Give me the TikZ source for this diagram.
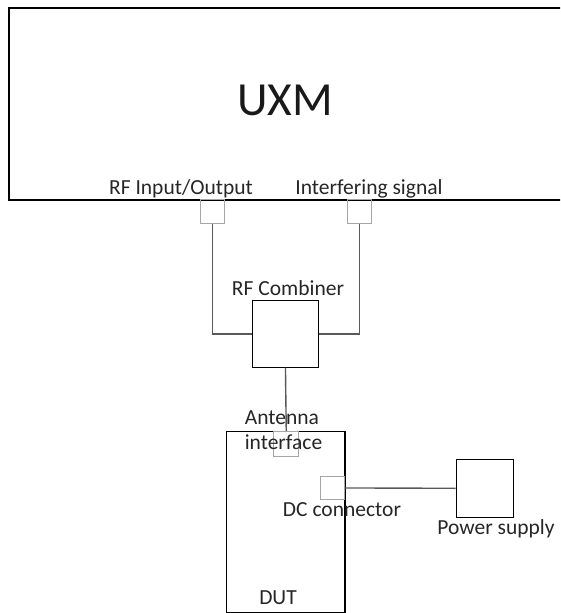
\documentclass[tikz,border=0pt]{standalone}
\usepackage{fontspec}
\setmainfont{Carlito}
\begin{document}
\begin{tikzpicture}[x=1pt,y=-1pt,
  mainbox/.style={draw=black,line width=1.4pt,fill=none,inner sep=0pt,anchor=north west},
  portbox/.style={draw=black!35,line width=0.9pt,fill=none,inner sep=0pt,anchor=north west,minimum width=24pt,minimum height=24pt},
  wire/.style={draw=black!65,line width=1.4pt},
  lbl/.style={inner sep=0pt,anchor=base,font=\fontsize{21.5}{23}\selectfont,text=black!85}]
\useasboundingbox (0,0) rectangle (560,613);
\clip (0,0) rectangle (560,613);
% UXM
\node[mainbox,line width=2.2pt,minimum width=580pt,minimum height=192pt] (uxm) at (7.7,7) {};
\node[inner sep=0pt,anchor=base,font=\fontsize{47.5}{50}\selectfont,text=black!90] (uxmt) at (285,115) {UXM};
\node[lbl] (rfl) at (181,194) {RF Input/Output};
\node[lbl] (ifl) at (369,194) {Interfering signal};
% ports on UXM
\node[portbox] (rfp) at (200,199) {};
\node[portbox] (ifp) at (347,199) {};
% RF combiner
\node[mainbox,line width=0.9pt,minimum width=66.6pt,minimum height=66.4pt] (comb) at (251.7,300.3) {};
\node[lbl] (combl) at (288,295.7) {RF Combiner};
% DUT
\node[mainbox,minimum width=118.6pt,minimum height=180.7pt] (dut) at (225.7,431) {};
\node[lbl] (dutl) at (278,604) {DUT};
\node[portbox,minimum width=25pt,minimum height=25pt] (ant) at (273.3,431) {};
\node[portbox,minimum width=24.5pt,minimum height=23pt] (dcp) at (319.5,476) {};
\node[lbl] (antl1) at (282,424) {Antenna};
\node[lbl] (antl2) at (283.5,449) {interface};
\node[lbl] (dcl) at (342,516.7) {DC connector};
% Power supply
\node[mainbox,line width=0.9pt,minimum width=57.6pt,minimum height=57.7pt] (ps) at (455.7,459) {};
\node[lbl] (psl) at (496,534) {Power supply};
% connectors
\draw[wire] (rfp.south) |- (comb.west);
\draw[wire] (ifp.south) |- (comb.east);
\draw[wire] (comb.south) -- (ant.north);
\draw[wire] (dcp.east) -- (ps.west);
\end{tikzpicture}
\end{document}
